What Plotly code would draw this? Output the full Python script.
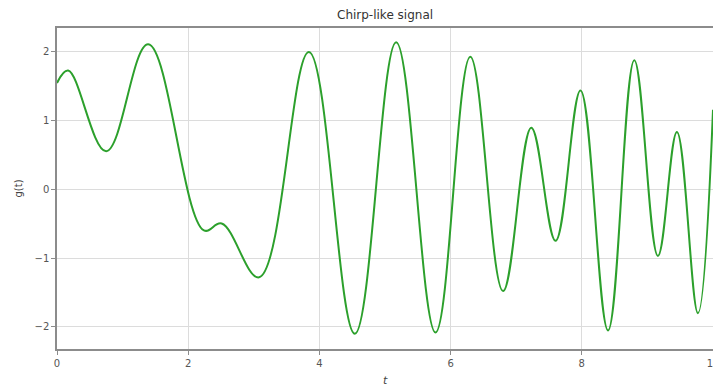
import plotly.graph_objects as go

# Values (local extrema, plus the end points)
t_values = [0.00, 0.17, 0.75, 1.39, 2.24, 2.51, 3.08, 3.84, 4.54, 5.17,
            5.77, 6.30, 6.80, 7.23, 7.60, 7.98, 8.40, 8.80, 9.16, 9.45,
            9.77, 10.00]
g_values = [1.54, 1.72, 0.55, 2.10, -0.60, -0.50, -1.28, 1.99, -2.10, 2.13,
            -2.08, 1.92, -1.48, 0.89, -0.75, 1.43, -2.05, 1.87, -0.97, 0.83,
            -1.80, 1.15]

x_ticks = [0, 2, 4, 6, 8, 10]
y_ticks = [-2, -1, 0, 1, 2]

title_text = "Chirp-like signal"
x_label = "<i>t</i>"
y_label = "g(t)"

fig = go.Figure()
fig.add_trace(go.Scatter(
    x=t_values, y=g_values, mode="lines",
    line=dict(color="#2ca02c", width=2, shape="spline", smoothing=1.1),
    showlegend=False,
))

font_family = "DejaVu Sans, Liberation Sans, sans-serif"
axis_common = dict(
    showgrid=True, gridcolor="#dcdcdc", gridwidth=1,
    zeroline=False,
    showline=True, linecolor="#8c8c8c", linewidth=1.5,
    ticks="outside", ticklen=4, tickcolor="#8c8c8c", tickwidth=1,
    tickfont=dict(family=font_family, size=10, color="#555555"),
    ticklabeloverflow="allow",
    automargin=False,
)

fig.update_layout(
    width=713, height=387,
    margin=dict(l=57, r=0, t=28, b=38),
    paper_bgcolor="white", plot_bgcolor="white",
    font=dict(family=font_family),
    xaxis=dict(range=[0, 10], tickvals=x_ticks, mirror=True, **axis_common),
    yaxis=dict(range=[-2.32, 2.337], tickvals=y_ticks, **axis_common),
    annotations=[
        dict(text=title_text, xref="paper", yref="paper", x=0.5, y=1,
             yshift=13, showarrow=False, xanchor="center", yanchor="middle",
             font=dict(family=font_family, size=12, color="#333333")),
        dict(text=x_label, xref="paper", yref="paper", x=0.5, y=0,
             yshift=-31, showarrow=False, xanchor="center", yanchor="middle",
             font=dict(family=font_family, size=11, color="#444444")),
        dict(text=y_label, xref="paper", yref="paper", x=0, y=0.5,
             xshift=-39, showarrow=False, xanchor="center", yanchor="middle",
             textangle=-90,
             font=dict(family=font_family, size=10, color="#444444")),
    ],
)

fig.write_html(
    "out.html",
    config={"displayModeBar": False},
    post_script="document.body.style.margin='0px';document.body.style.overflow='hidden';",
)
